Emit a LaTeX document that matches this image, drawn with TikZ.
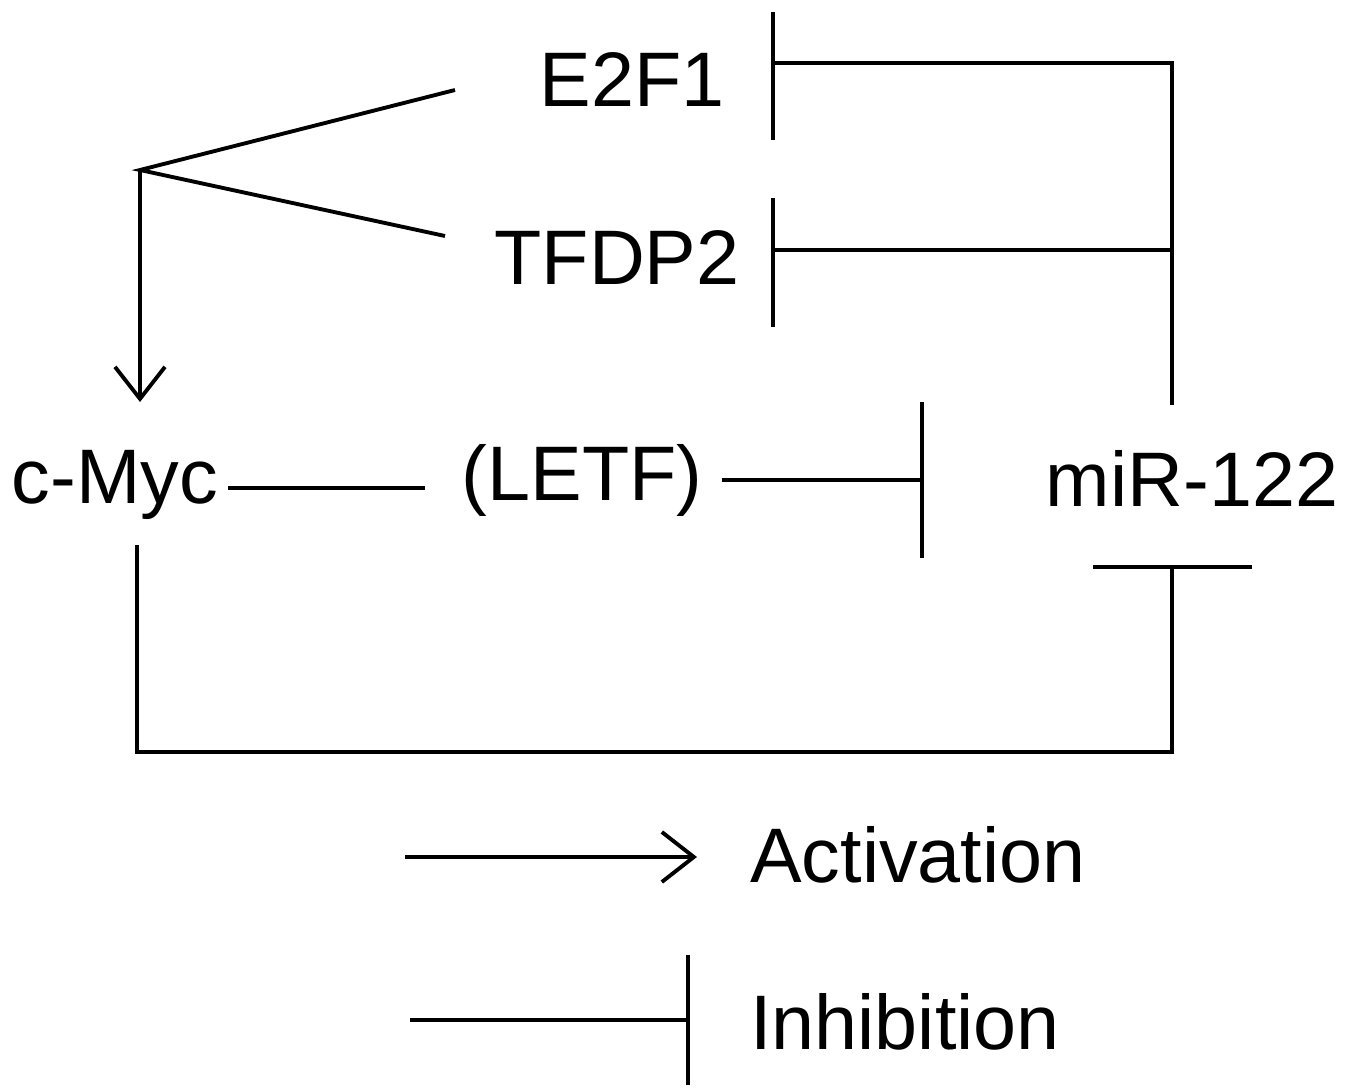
\documentclass[tikz,border=0pt]{standalone}
\usepackage{fontspec}
\setmainfont{Liberation Sans}
\usetikzlibrary{arrows.meta}
\tikzset{
  gene/.style={inner sep=0pt,font=\fontsize{22}{26}\selectfont},
  link/.style={line width=1.1pt},
  act/.style={link,-{Straight Barb[length=0.32cm,width=0.5cm,line width=1.1pt]}}
}
\begin{document}
\begin{tikzpicture}
  \useasboundingbox (0,0) rectangle (13.61,10.87);
  % genes
  \node[gene] (e2f1) at (6.32,10.07) {E2F1};
  \node[gene] (tfdp2) at (6.17,8.29) {TFDP2};
  \node[gene] (cmyc) at (1.15,6.02) {c-Myc};
  \node[gene] (letf) at (5.82,6.07) {(LETF)};
  \node[gene] (mir) at (11.92,6.09) {miR-122};
  % junction points
  \coordinate (fork) at (1.40,9.17);
  \coordinate (e2in) at (4.55,9.97);
  \coordinate (tfin) at (4.45,8.51);
  \coordinate (mytop) at (1.40,6.85);
  \coordinate (e2bar) at (7.73,10.24);
  \coordinate (tfbar) at (7.73,8.37);
  \coordinate (mirtop) at (11.72,6.82);
  \coordinate (mirjoin) at (11.72,10.24);
  \coordinate (myout) at (2.28,5.99);
  \coordinate (letfin) at (4.25,5.99);
  \coordinate (letfout) at (7.22,6.07);
  \coordinate (letfbar) at (9.22,6.07);
  \coordinate (mybot) at (1.37,5.42);
  \coordinate (mirbar) at (11.72,5.20);
  % miR-122 inhibits E2F1 and TFDP2
  \draw[link] (mirtop) -- (mirjoin) -- (e2bar);
  \draw[link] (7.73,10.75) -- (7.73,9.47);
  \draw[link] (mirjoin |- tfbar) -- (tfbar);
  \draw[link] (7.73,8.89) -- (7.73,7.60);
  % E2F1 / TFDP2 activate c-Myc
  \draw[link] (e2in) -- (fork) -- (tfin);
  \draw[act] (fork) -- (mytop);
  % c-Myc -- LETF -| miR-122
  \draw[link] (myout) -- (letfin);
  \draw[link] (letfout) -- (letfbar);
  \draw[link] (9.22,6.85) -- (9.22,5.29);
  % c-Myc -| miR-122
  \draw[link] (mybot) -- (1.37,3.35) -- (11.72,3.35) -- (mirbar);
  \draw[link] (10.93,5.20) -- (12.52,5.20);
  % legend
  \node[gene] (actlbl) at (9.18,2.32) {Activation};
  \node[gene] (inhlbl) at (9.05,0.65) {Inhibition};
  \coordinate (acts) at (4.05,2.30);
  \coordinate (acte) at (6.97,2.30);
  \coordinate (inhs) at (4.10,0.67);
  \coordinate (inhe) at (6.88,0.67);
  \draw[act] (acts) -- (acte);
  \draw[link] (inhs) -- (inhe);
  \draw[link] (6.88,1.32) -- (6.88,0.02);
\end{tikzpicture}
\end{document}
